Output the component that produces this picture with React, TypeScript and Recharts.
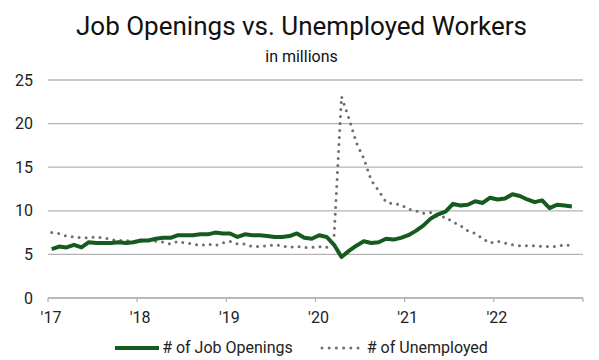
import React from 'react';
import { LineChart, Line, XAxis, YAxis, CartesianGrid, Legend } from 'recharts';

// ---- data ----
const startYear = 2017;
const monthCount = 71; // Jan 2017 .. Nov 2022

const jobOpenings = [
  5.6, 5.9, 5.8, 6.1, 5.8, 6.4, 6.3, 6.3, 6.3, 6.4, 6.3, 6.4,
  6.6, 6.6, 6.8, 6.9, 6.9, 7.2, 7.2, 7.2, 7.3, 7.3, 7.5, 7.4,
  7.4, 7.0, 7.3, 7.2, 7.2, 7.1, 7.0, 7.0, 7.1, 7.4, 6.9, 6.8,
  7.2, 7.0, 6.1, 4.7, 5.4, 6.0, 6.5, 6.3, 6.4, 6.8, 6.7, 6.9,
  7.2, 7.7, 8.3, 9.1, 9.6, 9.9, 10.8, 10.6, 10.7, 11.1, 10.9, 11.5,
  11.3, 11.4, 11.9, 11.7, 11.3, 11.0, 11.2, 10.3, 10.7, 10.6, 10.5,
];

const unemployed = [
  7.5, 7.4, 7.1, 7.0, 6.9, 6.9, 7.0, 6.9, 6.7, 6.6, 6.6, 6.5,
  6.5, 6.6, 6.5, 6.4, 6.2, 6.5, 6.3, 6.2, 6.0, 6.2, 6.0, 6.3,
  6.5, 6.2, 6.2, 5.9, 5.9, 6.0, 6.1, 6.0, 5.8, 5.9, 5.8, 5.8,
  5.9, 5.8, 7.1, 23.1, 20.6, 17.8, 16.0, 13.5, 12.3, 11.0, 10.8, 10.7,
  10.2, 10.0, 9.7, 9.8, 9.3, 9.3, 8.7, 8.3, 7.7, 7.4, 6.8, 6.3,
  6.5, 6.3, 6.1, 6.0, 6.0, 6.0, 5.9, 5.9, 5.9, 6.1, 6.0,
];

const yearTicks = [2017, 2018, 2019, 2020, 2021, 2022, 2023];
const yearTickLabels = ["'17", "'18", "'19", "'20", "'21", "'22", ''];
const yTicks = [0, 5, 10, 15, 20, 25];

const seriesNames = ['# of Job Openings', '# of Unemployed'];
const GREEN = '#155a1f';
const GRAY = '#6e6e6e';
const AXIS_GRAY = '#b4b4b4';
const FONT = 'Roboto, "Noto Sans", sans-serif';

// each monthly observation sits in the middle of its month on a year scale
const data = Array.from({ length: monthCount }, (_, i) => ({
  t: startYear + (i + 0.5) / 12,
  jobs: jobOpenings[i],
  unemployed: unemployed[i],
}));

const renderLegend = () => (
  <div
    style={{
      display: 'flex',
      justifyContent: 'center',
      alignItems: 'center',
      width: 599,
      height: 20,
      fontFamily: FONT,
      fontSize: 16,
      lineHeight: '20px',
      color: '#222',
      paddingLeft: 2,
    }}
  >
    <svg width={44} height={20} style={{ display: 'block' }}>
      <line x1={0} y1={10} x2={44} y2={10} stroke={GREEN} strokeWidth={4} />
    </svg>
    <span style={{ marginLeft: 3 }}>{seriesNames[0]}</span>
    <svg width={40} height={20} style={{ display: 'block', marginLeft: 27 }}>
      <line
        x1={2}
        y1={10}
        x2={38}
        y2={10}
        stroke={GRAY}
        strokeWidth={3}
        strokeDasharray="0 7.2"
        strokeLinecap="round"
      />
    </svg>
    <span style={{ marginLeft: 7 }}>{seriesNames[1]}</span>
  </div>
);

export default function App() {
  return (
    <div style={{ position: 'absolute', left: 0, top: 0, width: 599, height: 360, background: '#fff', fontFamily: FONT }}>
      <div
        style={{
          position: 'absolute',
          top: 13,
          left: 2,
          width: 599,
          textAlign: 'center',
          fontSize: 26,
          lineHeight: '26px',
          color: '#111',
        }}
      >
        Job Openings vs. Unemployed Workers
      </div>
      <div
        style={{
          position: 'absolute',
          top: 49,
          left: 2,
          width: 599,
          textAlign: 'center',
          fontSize: 16,
          lineHeight: '16px',
          color: '#111',
        }}
      >
        in millions
      </div>
      <LineChart
        width={599}
        height={360}
        data={data}
        margin={{ top: 80, right: 16, bottom: 32, left: 0 }}
        style={{ position: 'absolute', left: 0, top: 0 }}
      >
        <CartesianGrid vertical={false} stroke={AXIS_GRAY} strokeWidth={1.3} />
        <XAxis
          dataKey="t"
          type="number"
          domain={[2017, 2023]}
          ticks={yearTicks}
          tickFormatter={(v: number) => yearTickLabels[yearTicks.indexOf(v)] ?? ''}
          height={30}
          stroke={AXIS_GRAY}
          strokeWidth={1.3}
          tickSize={4}
          tickMargin={10}
          tick={{ fill: '#222', fontSize: 16, fontFamily: FONT, dx: 3 }}
          interval={0}
        />
        <YAxis
          domain={[0, 25]}
          ticks={yTicks}
          width={48}
          axisLine={false}
          tickLine={false}
          tickSize={0}
          tickMargin={15}
          tick={{ fill: '#222', fontSize: 16, fontFamily: FONT }}
          interval={0}
        />
        <Legend
          content={renderLegend}
          layout="horizontal"
          verticalAlign="middle"
          align="center"
          wrapperStyle={{ top: 338, left: 0, width: 599, height: 20 }}
        />
        <Line
          type="linear"
          dataKey="unemployed"
          name={seriesNames[1]}
          stroke={GRAY}
          strokeWidth={3}
          strokeDasharray="0 7"
          strokeLinecap="round"
          dot={false}
          activeDot={false}
          isAnimationActive={false}
        />
        <Line
          type="linear"
          dataKey="jobs"
          name={seriesNames[0]}
          stroke={GREEN}
          strokeWidth={4}
          strokeLinejoin="round"
          dot={false}
          activeDot={false}
          isAnimationActive={false}
        />
      </LineChart>
    </div>
  );
}
